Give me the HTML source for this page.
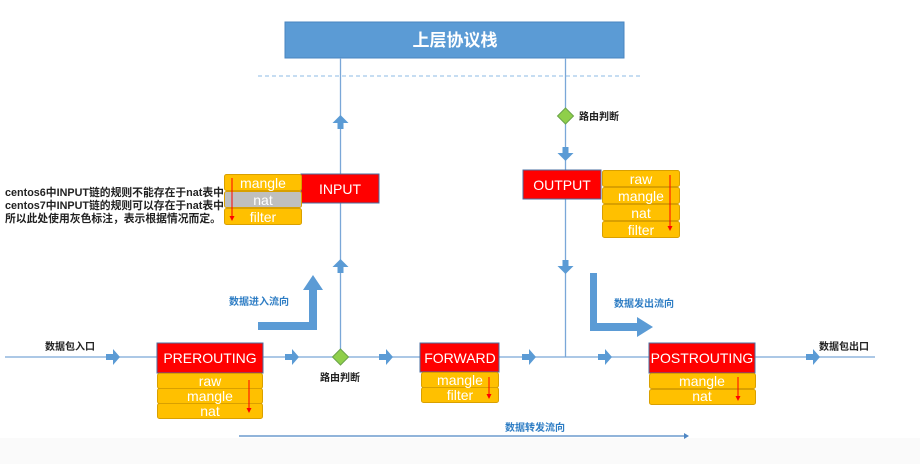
<!DOCTYPE html>
<html><head><meta charset="utf-8"><style>
html,body{margin:0;padding:0;background:#fff}
svg{display:block}
text{font-family:"Liberation Sans","Noto Sans CJK SC",sans-serif}
.w{fill:#fff;font-size:14px;text-anchor:middle}
.lb{font-size:10px;font-weight:bold;fill:#222}
.bl{font-size:10px;font-weight:bold;fill:#2e7dc4}
.t{fill:#ffc000;stroke:#d9a000;stroke-width:1}
.r{fill:#ff0000;stroke:#4a6fa0;stroke-width:1}
.ln{stroke:#7aa7d8;stroke-width:1.3;fill:none}
.ar{fill:#5b9bd5}
</style></head><body>
<svg width="920" height="464" viewBox="0 0 920 464" xmlns="http://www.w3.org/2000/svg">
<rect x="0" y="438" width="920" height="26" fill="#fafafa"/>
<rect x="285" y="22" width="339" height="36" fill="#5b9bd5" stroke="#4a86c0"/>
<text x="455" y="46" fill="#fff" font-size="17" font-weight="bold" text-anchor="middle">上层协议栈</text>
<line x1="258" y1="76" x2="641" y2="76" stroke="#8cbbe6" stroke-width="1" stroke-dasharray="4,3"/>
<line class="ln" x1="340.5" y1="58" x2="340.5" y2="357"/>
<line class="ln" x1="565.5" y1="58" x2="565.5" y2="357"/>
<line class="ln" x1="5" y1="357" x2="875" y2="357"/>
<line x1="239" y1="436" x2="684" y2="436" stroke="#4f87c4" stroke-width="1.3"/>
<path d="M684,433 l5,3 -5,3z" fill="#4f87c4"/>
<text class="bl" x="505" y="431">数据转发流向</text>
<g class="ar">
<path d="M106,354 h7 v-5 l7,8 -7,8 v-5 h-7z"/>
<path d="M285,354 h7 v-5 l7,8 -7,8 v-5 h-7z"/>
<path d="M379,354 h7 v-5 l7,8 -7,8 v-5 h-7z"/>
<path d="M522,354 h7 v-5 l7,8 -7,8 v-5 h-7z"/>
<path d="M598,354 h7 v-5 l7,8 -7,8 v-5 h-7z"/>
<path d="M806,354 h7 v-5 l7,8 -7,8 v-5 h-7z"/>
<path d="M337.5,129 v-6 h-5 l8,-8 8,8 h-5 v6z"/>
<path d="M337.5,273 v-6 h-5 l8,-8 8,8 h-5 v6z"/>
<path d="M562.5,147 v6 h-5 l8,8 8,-8 h-5 v-6z"/>
<path d="M562.5,260 v6 h-5 l8,8 8,-8 h-5 v-6z"/>
<path d="M258,322 h51 v-32 h-6 l10,-15 10,15 h-6 v40 h-59z"/>
<path d="M590,273 h7 v50 h40 v-6 l16,10 -16,10 v-6 h-47z"/>
</g>
<path d="M340.5,349 l8,8 -8,8 -8,-8z" fill="#8fcf4a" stroke="#6aa34a"/>
<path d="M565.5,108 l8,8 -8,8 -8,-8z" fill="#8fcf4a" stroke="#6aa34a"/>
<text class="lb" x="320" y="381">路由判断</text>
<text class="lb" x="579" y="120">路由判断</text>
<text class="lb" x="45" y="350">数据包入口</text>
<text class="lb" x="819" y="350">数据包出口</text>
<text class="bl" x="229" y="305">数据进入流向</text>
<text class="bl" x="614" y="307">数据发出流向</text>
<text class="lb" x="5" y="196" style="font-size:10.8px">centos6中INPUT链的规则不能存在于nat表中</text>
<text class="lb" x="5" y="209" style="font-size:10.8px">centos7中INPUT链的规则可以存在于nat表中</text>
<text class="lb" x="5" y="222" style="font-size:10.8px">所以此处使用灰色标注，表示根据情况而定。</text>
<rect class="r" x="301" y="174" width="78" height="29"/>
<text class="w" x="340" y="194" font-size="15">INPUT</text>
<rect class="t" x="224.5" y="174.5" width="77" height="16" rx="2"/>
<rect x="224.5" y="191.5" width="77" height="16" rx="2" fill="#bfbfbf" stroke="#d9a000"/>
<rect class="t" x="224.5" y="208.5" width="77" height="16" rx="2"/>
<text class="w" x="263" y="188">mangle</text>
<text class="w" x="263" y="205">nat</text>
<text class="w" x="263" y="222">filter</text>
<line x1="232" y1="178" x2="232" y2="218" stroke="#f00"/><path d="M229.5,216 l2.5,5 2.5,-5z" fill="#f00"/>
<rect class="r" x="523" y="170" width="78" height="29"/>
<text class="w" x="562" y="190" font-size="15">OUTPUT</text>
<rect class="t" x="602.5" y="170.5" width="77" height="16" rx="2"/>
<rect class="t" x="602.5" y="187.5" width="77" height="16" rx="2"/>
<rect class="t" x="602.5" y="204.5" width="77" height="16" rx="2"/>
<rect class="t" x="602.5" y="221.5" width="77" height="16" rx="2"/>
<text class="w" x="641" y="184">raw</text>
<text class="w" x="641" y="201">mangle</text>
<text class="w" x="641" y="218">nat</text>
<text class="w" x="641" y="235">filter</text>
<line x1="670" y1="175" x2="670" y2="228" stroke="#f00"/><path d="M667.5,226 l2.5,5 2.5,-5z" fill="#f00"/>
<rect class="r" x="157" y="343" width="106" height="30"/>
<text class="w" x="210" y="363">PREROUTING</text>
<rect class="t" x="157.5" y="373.5" width="105" height="15" rx="2"/>
<rect class="t" x="157.5" y="388.5" width="105" height="15" rx="2"/>
<rect class="t" x="157.5" y="403.5" width="105" height="15" rx="2"/>
<text class="w" x="210" y="386">raw</text>
<text class="w" x="210" y="401">mangle</text>
<text class="w" x="210" y="416">nat</text>
<line x1="249" y1="380" x2="249" y2="410" stroke="#f00"/><path d="M246.5,408 l2.5,5 2.5,-5z" fill="#f00"/>
<rect class="r" x="420" y="343" width="79" height="29"/>
<text class="w" x="460" y="363">FORWARD</text>
<rect class="t" x="421.5" y="372.5" width="77" height="15" rx="2"/>
<rect class="t" x="421.5" y="387.5" width="77" height="15" rx="2"/>
<text class="w" x="460" y="385">mangle</text>
<text class="w" x="460" y="400">filter</text>
<line x1="489" y1="377" x2="489" y2="396" stroke="#f00"/><path d="M486.5,394 l2.5,5 2.5,-5z" fill="#f00"/>
<rect class="r" x="649" y="343" width="106" height="30"/>
<text class="w" x="702" y="363">POSTROUTING</text>
<rect class="t" x="649.5" y="373.5" width="106" height="15" rx="2"/>
<rect class="t" x="649.5" y="389.5" width="106" height="15" rx="2"/>
<text class="w" x="702" y="386">mangle</text>
<text class="w" x="702" y="401">nat</text>
<line x1="738" y1="377" x2="738" y2="398" stroke="#f00"/><path d="M735.5,396 l2.5,5 2.5,-5z" fill="#f00"/>
</svg>
</body></html>
